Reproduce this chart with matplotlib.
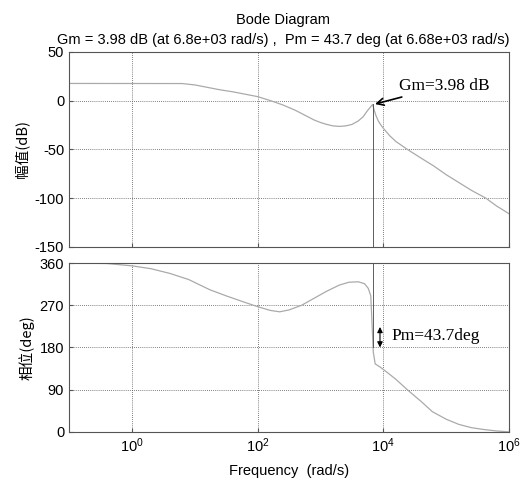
import numpy as np
import matplotlib
matplotlib.use("Agg")
import matplotlib.pyplot as plt
from matplotlib.ticker import FixedLocator, NullLocator

plt.rcParams['font.family'] = ['Liberation Sans', 'Noto Sans CJK SC', 'DejaVu Sans']
plt.rcParams['mathtext.fontset'] = 'custom'
plt.rcParams['mathtext.rm'] = 'Liberation Sans'
plt.rcParams['mathtext.it'] = 'Liberation Sans'
plt.rcParams['axes.unicode_minus'] = False

# magnitude curve (log10 of rad/s, dB)
mag_logw = [-1.0, 0.8, 1.0, 1.2, 1.4, 1.6, 1.8, 2.0, 2.2, 2.4, 2.6, 2.78, 2.9, 3.0,
            3.1, 3.2, 3.3, 3.4, 3.5, 3.6, 3.68, 3.74, 3.79, 3.83, 3.85, 3.88, 3.92,
            3.97, 4.02, 4.1, 4.2, 4.38, 4.6, 4.8, 5.0, 5.2, 5.4, 5.63, 5.8, 6.0]
mag_db = [17.5, 17.4, 16, 13.5, 11, 9, 6.5, 4, 0, -4.5, -10, -16, -20, -22.5,
          -24.5, -26, -26.5, -26, -24.5, -21, -16.5, -11, -7, -4, -9, -15, -21,
          -26, -30, -36, -42, -50, -59, -67, -76, -84, -92, -100, -108, -116]

# phase curve (log10 of rad/s, deg)
ph_logw = [-1.0, -0.4, 0.0, 0.3, 0.6, 0.9, 1.24, 1.5, 1.8, 2.0, 2.2, 2.35, 2.5,
           2.7, 2.9, 3.1, 3.3, 3.45, 3.6, 3.7, 3.76, 3.8, 3.83, 3.84, 3.87, 3.95,
           4.05, 4.2, 4.38, 4.6, 4.78, 5.0, 5.2, 5.4, 5.6, 5.8, 6.0]
ph_deg = [360, 359, 354, 348, 338, 325, 303, 290, 276, 267, 259, 256, 260,
          270, 285, 300, 313, 319, 320, 316, 306, 290, 200, 170, 145, 138,
          128, 112, 90, 65, 43, 27, 16, 9, 5, 2, 0]

w_pc = 6.8e3          # phase crossover
gm_db = 3.98
pm_deg = 43.7

mag_ticks = [-150, -100, -50, 0, 50]
ph_ticks = [0, 90, 180, 270, 360]
freq_ticks = [1e0, 1e2, 1e4, 1e6]

fig = plt.figure(figsize=(5.27, 4.88), dpi=100)
ax1 = fig.add_axes([0.131, 0.494, 0.835, 0.400])
ax2 = fig.add_axes([0.131, 0.115, 0.835, 0.346])

curve_col = '#aaaaaa'
for ax in (ax1, ax2):
    ax.set_xscale('log')
    ax.set_xlim(1e-1, 1e6)
    ax.xaxis.set_major_locator(FixedLocator(freq_ticks))
    ax.xaxis.set_minor_locator(NullLocator())
    ax.grid(True, which='major', color='#555555', linestyle=(0, (1, 1.5)), linewidth=0.6)
    ax.tick_params(direction='in', length=3, labelsize=10.5, color='#555555')
    for s in ax.spines.values():
        s.set_color('#555555')
        s.set_linewidth(0.8)

ax1.plot(10 ** np.array(mag_logw), mag_db, color=curve_col, lw=0.9)
ax1.set_ylim(-150, 50)
ax1.yaxis.set_major_locator(FixedLocator(mag_ticks))
ax1.tick_params(labelbottom=False)
ax1.axvline(w_pc, ymin=0, ymax=(150 - gm_db) / 200, color='#444444', lw=0.6)
ax1.set_ylabel('幅值(dB)', family=['Noto Sans CJK SC', 'DejaVu Sans'], fontsize=10.5, labelpad=4)
ax1.annotate('Gm=%.2f dB' % gm_db, xy=(w_pc * 1.03, -gm_db), xytext=(w_pc * 2.6, 15),
             family='Liberation Serif', fontsize=12.5, va='center', ha='left',
             arrowprops=dict(arrowstyle='->', color='black', lw=1.2, shrinkA=1, shrinkB=1))

ax2.plot(10 ** np.array(ph_logw), ph_deg, color=curve_col, lw=0.9)
ax2.set_ylim(0, 360)
ax2.yaxis.set_major_locator(FixedLocator(ph_ticks))
ax2.axvline(w_pc, ymin=0.5, ymax=1.0, color='#444444', lw=0.6)
ax2.set_ylabel('相位(deg)', family=['Noto Sans CJK SC', 'DejaVu Sans'], fontsize=10.5, labelpad=4)
ax2.annotate('', xy=(w_pc * 1.3, 180), xytext=(w_pc * 1.3, 180 + pm_deg),
             arrowprops=dict(arrowstyle='<|-|>', color='black', lw=0.8, shrinkA=0, shrinkB=0,
                             mutation_scale=8))
ax2.text(w_pc * 1.95, 180 + pm_deg / 2 + 2, 'Pm=%.1fdeg' % pm_deg, family='Liberation Serif',
         fontsize=12.5, va='center', ha='left')
ax2.set_xlabel('Frequency  (rad/s)', fontsize=10.5, labelpad=6)

fig.text(0.537, 0.958, 'Bode Diagram', ha='center', va='center', fontsize=10.5)
fig.text(0.537, 0.918, 'Gm = 3.98 dB (at 6.8e+03 rad/s) ,  Pm = 43.7 deg (at 6.68e+03 rad/s)',
         ha='center', va='center', fontsize=10.5)

fig.savefig('out.png', dpi=100)
